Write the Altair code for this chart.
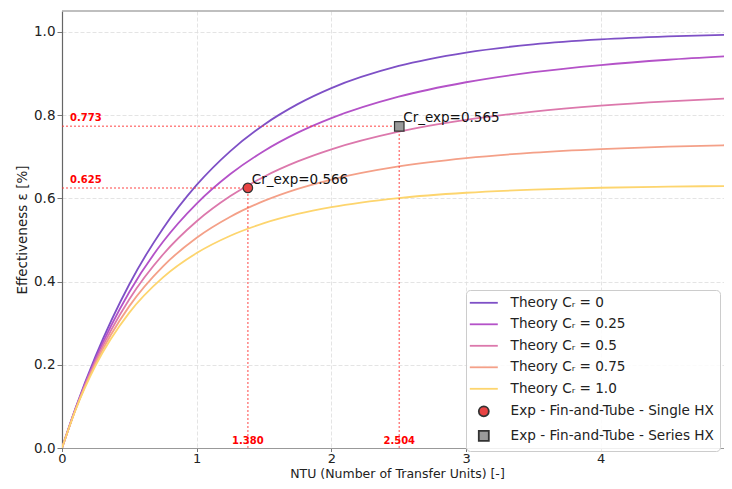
import altair as alt
import pandas as pd

# ---------------- data ----------------
ntu = [0, 0.1, 0.25, 0.5, 0.75, 1.0, 1.25, 1.5, 1.75, 2.0, 2.5, 3.0, 3.5, 4.0, 4.5, 5.0]
eff_cr_0 = [0, 0.0952, 0.2212, 0.3935, 0.5276, 0.6321, 0.7135, 0.7769, 0.8262, 0.8647, 0.9179, 0.9502, 0.9698, 0.9817, 0.9889, 0.9933]
eff_cr_025 = [0, 0.0940, 0.2152, 0.3750, 0.4954, 0.5872, 0.6582, 0.7137, 0.7577, 0.7927, 0.8442, 0.8788, 0.9030, 0.9202, 0.9329, 0.9424]
eff_cr_05 = [0, 0.0929, 0.2094, 0.3575, 0.4650, 0.5448, 0.6053, 0.6519, 0.6885, 0.7176, 0.7600, 0.7885, 0.8084, 0.8226, 0.8329, 0.8405]
eff_cr_075 = [0, 0.0918, 0.2039, 0.3409, 0.4365, 0.5052, 0.5557, 0.5936, 0.6226, 0.6451, 0.6766, 0.6966, 0.7097, 0.7183, 0.7241, 0.7280]
eff_cr_1 = [0, 0.0908, 0.1985, 0.3253, 0.4100, 0.4685, 0.5101, 0.5402, 0.5623, 0.5788, 0.6006, 0.6133, 0.6208, 0.6253, 0.6280, 0.6296]

theory_labels = ["Theory C\u1d63 = 0", "Theory C\u1d63 = 0.25", "Theory C\u1d63 = 0.5",
                 "Theory C\u1d63 = 0.75", "Theory C\u1d63 = 1.0"]
theory_colors = ["#7e50c6", "#b452c8", "#dc78ac", "#f4a088", "#fdd56e"]

exp_labels = ["Exp - Fin-and-Tube - Single HX", "Exp - Fin-and-Tube - Series HX"]
exp_ntu = [1.380, 2.504]
exp_eff = [0.625, 0.773]
exp_cr = [0.566, 0.565]
exp_fill = ["#e84444", "#9a9a9a"]
exp_edge = ["#333333", "#333333"]

x_ticks = [0, 1, 2, 3, 4]
y_ticks = [0.0, 0.2, 0.4, 0.6, 0.8, 1.0]

# ---------------- tables ----------------
rows = []
for lab, ys in zip(theory_labels, [eff_cr_0, eff_cr_025, eff_cr_05, eff_cr_075, eff_cr_1]):
    for x, y in zip(ntu, ys):
        rows.append({"NTU": x, "eff": y, "series": lab})
theory_df = pd.DataFrame(rows)

exp_df = pd.DataFrame({
    "NTU": exp_ntu,
    "eff": exp_eff,
    "series": exp_labels,
    "label": [f"Cr_exp={c:.3f}" for c in exp_cr],
    "xtxt": [f"{v:.3f}" for v in exp_ntu],
    "ytxt": [f"{v:.3f}" for v in exp_eff],
    "x0": [0.0, 0.0],
    "y0": [0.0, 0.0],
})

all_series = theory_labels + exp_labels

line_path = "M-2.8,0L2.8,0"

stroke_scale = alt.Scale(domain=all_series, range=theory_colors + exp_edge)
fill_scale = alt.Scale(domain=all_series, range=["transparent"] * 5 + exp_fill)
shape_scale = alt.Scale(domain=all_series, range=[line_path] * 5 + ["circle", "square"])

x_scale = alt.Scale(domain=[0, 4.915], nice=False, zero=False)
y_scale = alt.Scale(domain=[0, 1.05], nice=False, zero=False)

FONT = "DejaVu Sans"

x_axis = alt.Axis(orient="bottom", values=x_ticks, format="d", labelFlush=False,
                  title="NTU (Number of Transfer Units) [-]",
                  titleX=335, titleY=29.5, titleBaseline="alphabetic", titleAlign="center",
                  grid=True, gridColor="#dddddd", gridDash=[4, 2], gridWidth=0.8,
                  domainColor="#999999", domainWidth=1.2, tickColor="#777777", tickSize=3.5,
                  labelPadding=1, labelFontSize=13, titleFontSize=12.5,
                  labelColor="#222222", titleColor="#222222", titleFontWeight="normal",
                  labelFont=FONT, titleFont=FONT)
y_axis = alt.Axis(orient="left", values=y_ticks, format=".1f", labelFlush=False,
                  title="Effectiveness \u03b5 [%]",
                  grid=True, gridColor="#dddddd", gridDash=[4, 2], gridWidth=0.8,
                  domainColor="#666666", domainWidth=1.2, tickColor="#777777", tickSize=5,
                  labelPadding=2, titlePadding=4, labelFontSize=13.5, titleFontSize=13.5,
                  labelColor="#222222", titleColor="#222222", titleFontWeight="normal",
                  labelFont=FONT, titleFont=FONT)

legend = alt.Legend(title=None, orient="none", legendX=404, legendY=279,
                    symbolSize=100, symbolStrokeWidth=1.8, symbolOffset=5,
                    labelOffset=20, labelFontSize=13.6, labelFont=FONT, labelColor="#222222",
                    labelLimit=400, rowPadding=6.5, padding=6,
                    fillColor="rgba(255,255,255,0.85)", strokeColor="#cccccc",
                    cornerRadius=4)


def X(field):
    return alt.X(field, scale=x_scale, axis=x_axis)


def Y(field):
    return alt.Y(field, scale=y_scale, axis=y_axis)


# ---------------- layers ----------------
theory = alt.Chart(theory_df).mark_line(strokeWidth=1.8, interpolate="monotone", clip=True).encode(
    x=X("NTU:Q"),
    y=Y("eff:Q"),
    stroke=alt.Stroke("series:N", scale=stroke_scale, legend=legend),
    detail="series:N",
)

# top frame line of the plot area
top_spine = alt.Chart(exp_df).mark_rule(color="#aaaaaa", strokeWidth=1.2).encode(
    y=alt.value(0)
)

hguide = alt.Chart(exp_df).mark_rule(color="#ff3030", opacity=0.6, strokeWidth=1.5, strokeDash=[2, 2]).encode(
    x=X("x0:Q"),
    x2="NTU:Q",
    y=Y("eff:Q"),
)
vguide = alt.Chart(exp_df).mark_rule(color="#ff3030", opacity=0.6, strokeWidth=1.5, strokeDash=[2, 2]).encode(
    x=X("NTU:Q"),
    y=Y("y0:Q"),
    y2="eff:Q",
)

points = alt.Chart(exp_df).mark_point(filled=True, opacity=1, size=90, strokeWidth=1.2).encode(
    x=X("NTU:Q"),
    y=Y("eff:Q"),
    fill=alt.Fill("series:N", scale=fill_scale, legend=legend),
    stroke=alt.Stroke("series:N", scale=stroke_scale, legend=legend),
    shape=alt.Shape("series:N", scale=shape_scale, legend=legend),
)

pt_labels = alt.Chart(exp_df).mark_text(align="left", baseline="bottom", dx=4, dy=-1,
                                        fontSize=13.5, font=FONT, color="#111111").encode(
    x=X("NTU:Q"),
    y=Y("eff:Q"),
    text="label:N",
)

y_notes = alt.Chart(exp_df).mark_text(align="left", baseline="bottom", dx=8, dy=-3,
                                      fontSize=10, fontWeight="bold", font=FONT, color="#ff0000").encode(
    x=X("x0:Q"),
    y=Y("eff:Q"),
    text="ytxt:N",
)
x_notes = alt.Chart(exp_df).mark_text(align="center", baseline="bottom", dy=-2,
                                      fontSize=10, fontWeight="bold", font=FONT, color="#ff0000").encode(
    x=X("NTU:Q"),
    y=Y("y0:Q"),
    text="xtxt:N",
)

chart = alt.layer(theory, top_spine, hguide, vguide, points, pt_labels, y_notes, x_notes).properties(
    width=662, height=437,
    autosize=alt.AutoSizeParams(type="none"),
    padding={"left": 54, "top": 3, "right": 0, "bottom": 33},
    background="white",
).configure_view(stroke="transparent")

chart.save("out.html", embed_options={"renderer": "svg", "actions": False})
